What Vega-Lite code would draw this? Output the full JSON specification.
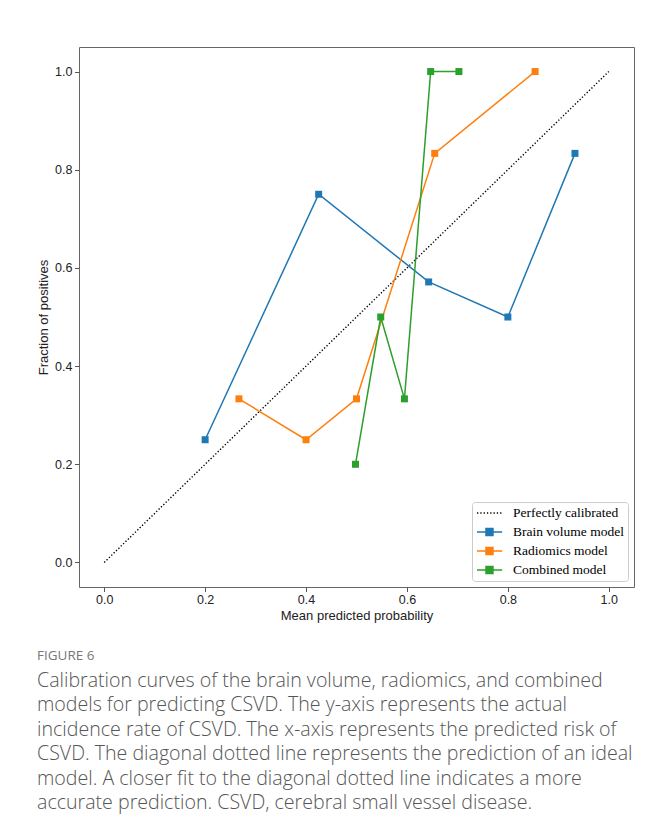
{
  "$schema": "https://vega.github.io/schema/vega-lite/v6.json",
  "width": 555,
  "height": 540,
  "autosize": {"type": "none"},
  "padding": {"left": 79, "top": 47, "right": 21, "bottom": 245},
  "background": "white",
  "config": {
    "view": {"stroke": "#666666", "strokeWidth": 1},
    "axis": {
      "grid": false,
      "domain": false,
      "tickColor": "#555555",
      "tickSize": 4.5,
      "labelFont": "Liberation Sans",
      "labelFontSize": 12.5,
      "labelColor": "#222222",
      "titleFont": "Liberation Sans",
      "titleFontSize": 13,
      "titleFontWeight": "normal",
      "titleColor": "#222222"
    }
  },
  "title": {
    "text": "FIGURE 6",
    "subtitle": [
      "Calibration curves of the brain volume, radiomics, and combined",
      "models for predicting CSVD. The y-axis represents the actual",
      "incidence rate of CSVD. The x-axis represents the predicted risk of",
      "CSVD. The diagonal dotted line represents the prediction of an ideal",
      "model. A closer fit to the diagonal dotted line indicates a more",
      "accurate prediction. CSVD, cerebral small vessel disease."
    ],
    "orient": "bottom",
    "anchor": "start",
    "frame": "group",
    "dx": -42,
    "offset": 27,
    "font": "Open Sans",
    "fontSize": 13.5,
    "fontWeight": "normal",
    "color": "#777777",
    "subtitleFont": "Open Sans",
    "subtitleFontSize": 19.6,
    "subtitleFontWeight": 300,
    "subtitleColor": "#555555",
    "subtitleLineHeight": 24.5,
    "subtitlePadding": 9
  },
  "data": {
    "values": [
      {"series": "Perfectly calibrated", "x": 0, "y": 0},
      {"series": "Perfectly calibrated", "x": 1, "y": 1},
      {"series": "Brain volume model", "x": 0.2, "y": 0.25},
      {"series": "Brain volume model", "x": 0.425, "y": 0.75},
      {"series": "Brain volume model", "x": 0.643, "y": 0.5714},
      {"series": "Brain volume model", "x": 0.8, "y": 0.5},
      {"series": "Brain volume model", "x": 0.933, "y": 0.8333},
      {"series": "Radiomics model", "x": 0.267, "y": 0.3333},
      {"series": "Radiomics model", "x": 0.4, "y": 0.25},
      {"series": "Radiomics model", "x": 0.5, "y": 0.3333},
      {"series": "Radiomics model", "x": 0.655, "y": 0.8333},
      {"series": "Radiomics model", "x": 0.854, "y": 1.0},
      {"series": "Combined model", "x": 0.498, "y": 0.2},
      {"series": "Combined model", "x": 0.548, "y": 0.5},
      {"series": "Combined model", "x": 0.595, "y": 0.3333},
      {"series": "Combined model", "x": 0.647, "y": 1.0},
      {"series": "Combined model", "x": 0.703, "y": 1.0}
    ]
  },
  "encoding": {
    "x": {
      "field": "x", "type": "quantitative",
      "scale": {"domain": [-0.05, 1.05], "nice": false, "zero": false},
      "axis": {"values": [0, 0.2, 0.4, 0.6, 0.8, 1.0], "format": ".1f", "title": "Mean predicted probability", "labelPadding": 2, "titlePadding": 3}
    },
    "y": {
      "field": "y", "type": "quantitative",
      "scale": {"domain": [-0.05, 1.05], "nice": false, "zero": false},
      "axis": {"values": [0, 0.2, 0.4, 0.6, 0.8, 1.0], "format": ".1f", "title": "Fraction of positives", "labelPadding": 2.5, "titlePadding": 4}
    },
    "color": {
      "field": "series", "type": "nominal",
      "scale": {
        "domain": ["Perfectly calibrated", "Brain volume model", "Radiomics model", "Combined model"],
        "range": ["#000000", "#1f77b4", "#ff7f0e", "#2ca02c"]
      },
      "legend": {
        "title": null,
        "orient": "bottom-right",
        "offset": 6,
        "padding": 4,
        "strokeColor": "#cccccc",
        "fillColor": "white",
        "cornerRadius": 3,
        "labelFont": "Liberation Serif",
        "labelFontSize": 13.5,
        "labelColor": "#000000",
        "labelOffset": 23,
        "rowPadding": 5,
        "symbolSize": 144,
        "encode": {
          "symbols": {
            "update": {
              "shape": {"signal": "datum.value === 'Perfectly calibrated' ? 'M-1,0H3.2' : 'M-1,0H3.2M0.5,-0.58H1.66V0.58H0.5Z'"},
              "fill": {"signal": "datum.value === 'Perfectly calibrated' ? 'transparent' : scale('color', datum.value)"},
              "stroke": {"signal": "scale('color', datum.value)"},
              "strokeWidth": {"value": 1.5},
              "strokeDash": {"signal": "datum.value === 'Perfectly calibrated' ? [1.3, 2] : [1, 0]"},
              "size": {"value": 144},
              "opacity": {"value": 1}
            }
          }
        }
      }
    }
  },
  "layer": [
    {
      "transform": [{"filter": "datum.series === 'Perfectly calibrated'"}],
      "mark": {"type": "line", "strokeWidth": 1.4, "strokeDash": [1.3, 2]}
    },
    {
      "transform": [{"filter": "datum.series !== 'Perfectly calibrated'"}],
      "mark": {"type": "line", "strokeWidth": 1.5, "point": {"shape": "square", "filled": true, "size": 49, "opacity": 1}}
    }
  ]
}
